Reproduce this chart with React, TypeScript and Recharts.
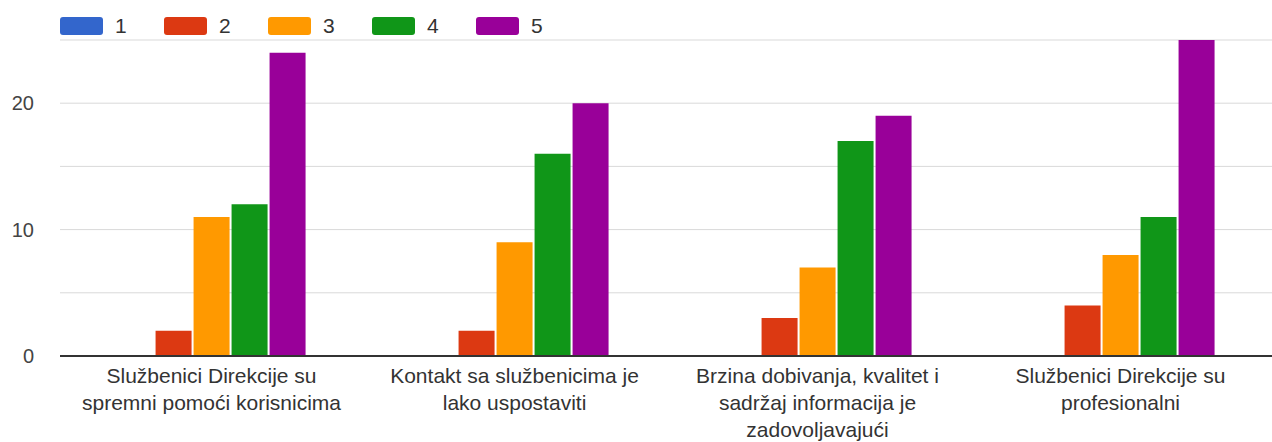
import { Bar, BarChart, CartesianGrid, Legend, XAxis, YAxis } from "recharts";

const categories = [
  "Službenici Direkcije su\nspremni pomoći korisnicima",
  "Kontakt sa službenicima je\nlako uspostaviti",
  "Brzina dobivanja, kvalitet i\nsadržaj informacija je\nzadovoljavajući",
  "Službenici Direkcije su\nprofesionalni",
];

const seriesNames = ["1", "2", "3", "4", "5"];
const seriesColors = ["#3366cc", "#dc3912", "#ff9900", "#109618", "#990099"];

const values1 = [0, 0, 0, 0];
const values2 = [2, 2, 3, 4];
const values3 = [11, 9, 7, 8];
const values4 = [12, 16, 17, 11];
const values5 = [24, 20, 19, 25];

const yTicks = [0, 5, 10, 15, 20, 25];
const yLabels = [0, 10, 20];

const allValues = [values1, values2, values3, values4, values5];

const data = categories.map((name, i) => {
  const row: Record<string, string | number> = { name };
  seriesNames.forEach((s, k) => {
    row[s] = allValues[k][i];
  });
  return row;
});

const FONT = "'Liberation Sans', Arial, sans-serif";

function CategoryTick({ x, y, payload }: any) {
  const lines = String(payload.value).split("\n");
  return (
    <g transform={`translate(${x},${y})`}>
      {lines.map((line, i) => (
        <text
          key={i}
          x={0}
          y={19 + i * 27}
          textAnchor="middle"
          fill="#333"
          fontSize={21}
          fontFamily={FONT}
        >
          {line}
        </text>
      ))}
    </g>
  );
}

function TopLegend() {
  return (
    <div style={{ display: "flex", fontFamily: FONT, fontSize: 21, color: "#333" }}>
      {seriesNames.map((s, i) => (
        <div
          key={s}
          style={{ display: "flex", alignItems: "center", width: 104 }}
        >
          <span
            style={{
              display: "inline-block",
              width: 43,
              height: 18,
              borderRadius: 3,
              background: seriesColors[i],
              marginRight: 12,
            }}
          />
          <span>{s}</span>
        </div>
      ))}
    </div>
  );
}

export default function App() {
  return (
    <div style={{ position: "absolute", left: 0, top: 0, background: "#fff" }}>
      <BarChart
        width={1272}
        height={442}
        data={data}
        margin={{ top: 10, right: 0, bottom: 0, left: 0 }}
        barCategoryGap="19%"
        barGap={2}
      >
        <Legend
          verticalAlign="top"
          align="left"
          height={30}
          content={<TopLegend />}
          wrapperStyle={{ left: 60, top: 14 }}
        />
        <CartesianGrid horizontal vertical={false} stroke="#d9d9d9" />
        <XAxis
          dataKey="name"
          height={86}
          tickLine={false}
          axisLine={{ stroke: "#333", strokeWidth: 2 }}
          tick={<CategoryTick />}
          interval={0}
        />
        <YAxis
          width={60}
          domain={[0, 25]}
          ticks={yTicks}
          axisLine={false}
          tickLine={false}
          tickSize={0}
          tickMargin={26}
          tick={{ fill: "#444", fontSize: 20, fontFamily: FONT }}
          tickFormatter={(v: number) => (yLabels.includes(v) ? String(v) : "")}
        />
        {seriesNames.map((s, i) => (
          <Bar
            key={s}
            dataKey={s}
            fill={seriesColors[i]}
            isAnimationActive={false}
          />
        ))}
      </BarChart>
    </div>
  );
}
